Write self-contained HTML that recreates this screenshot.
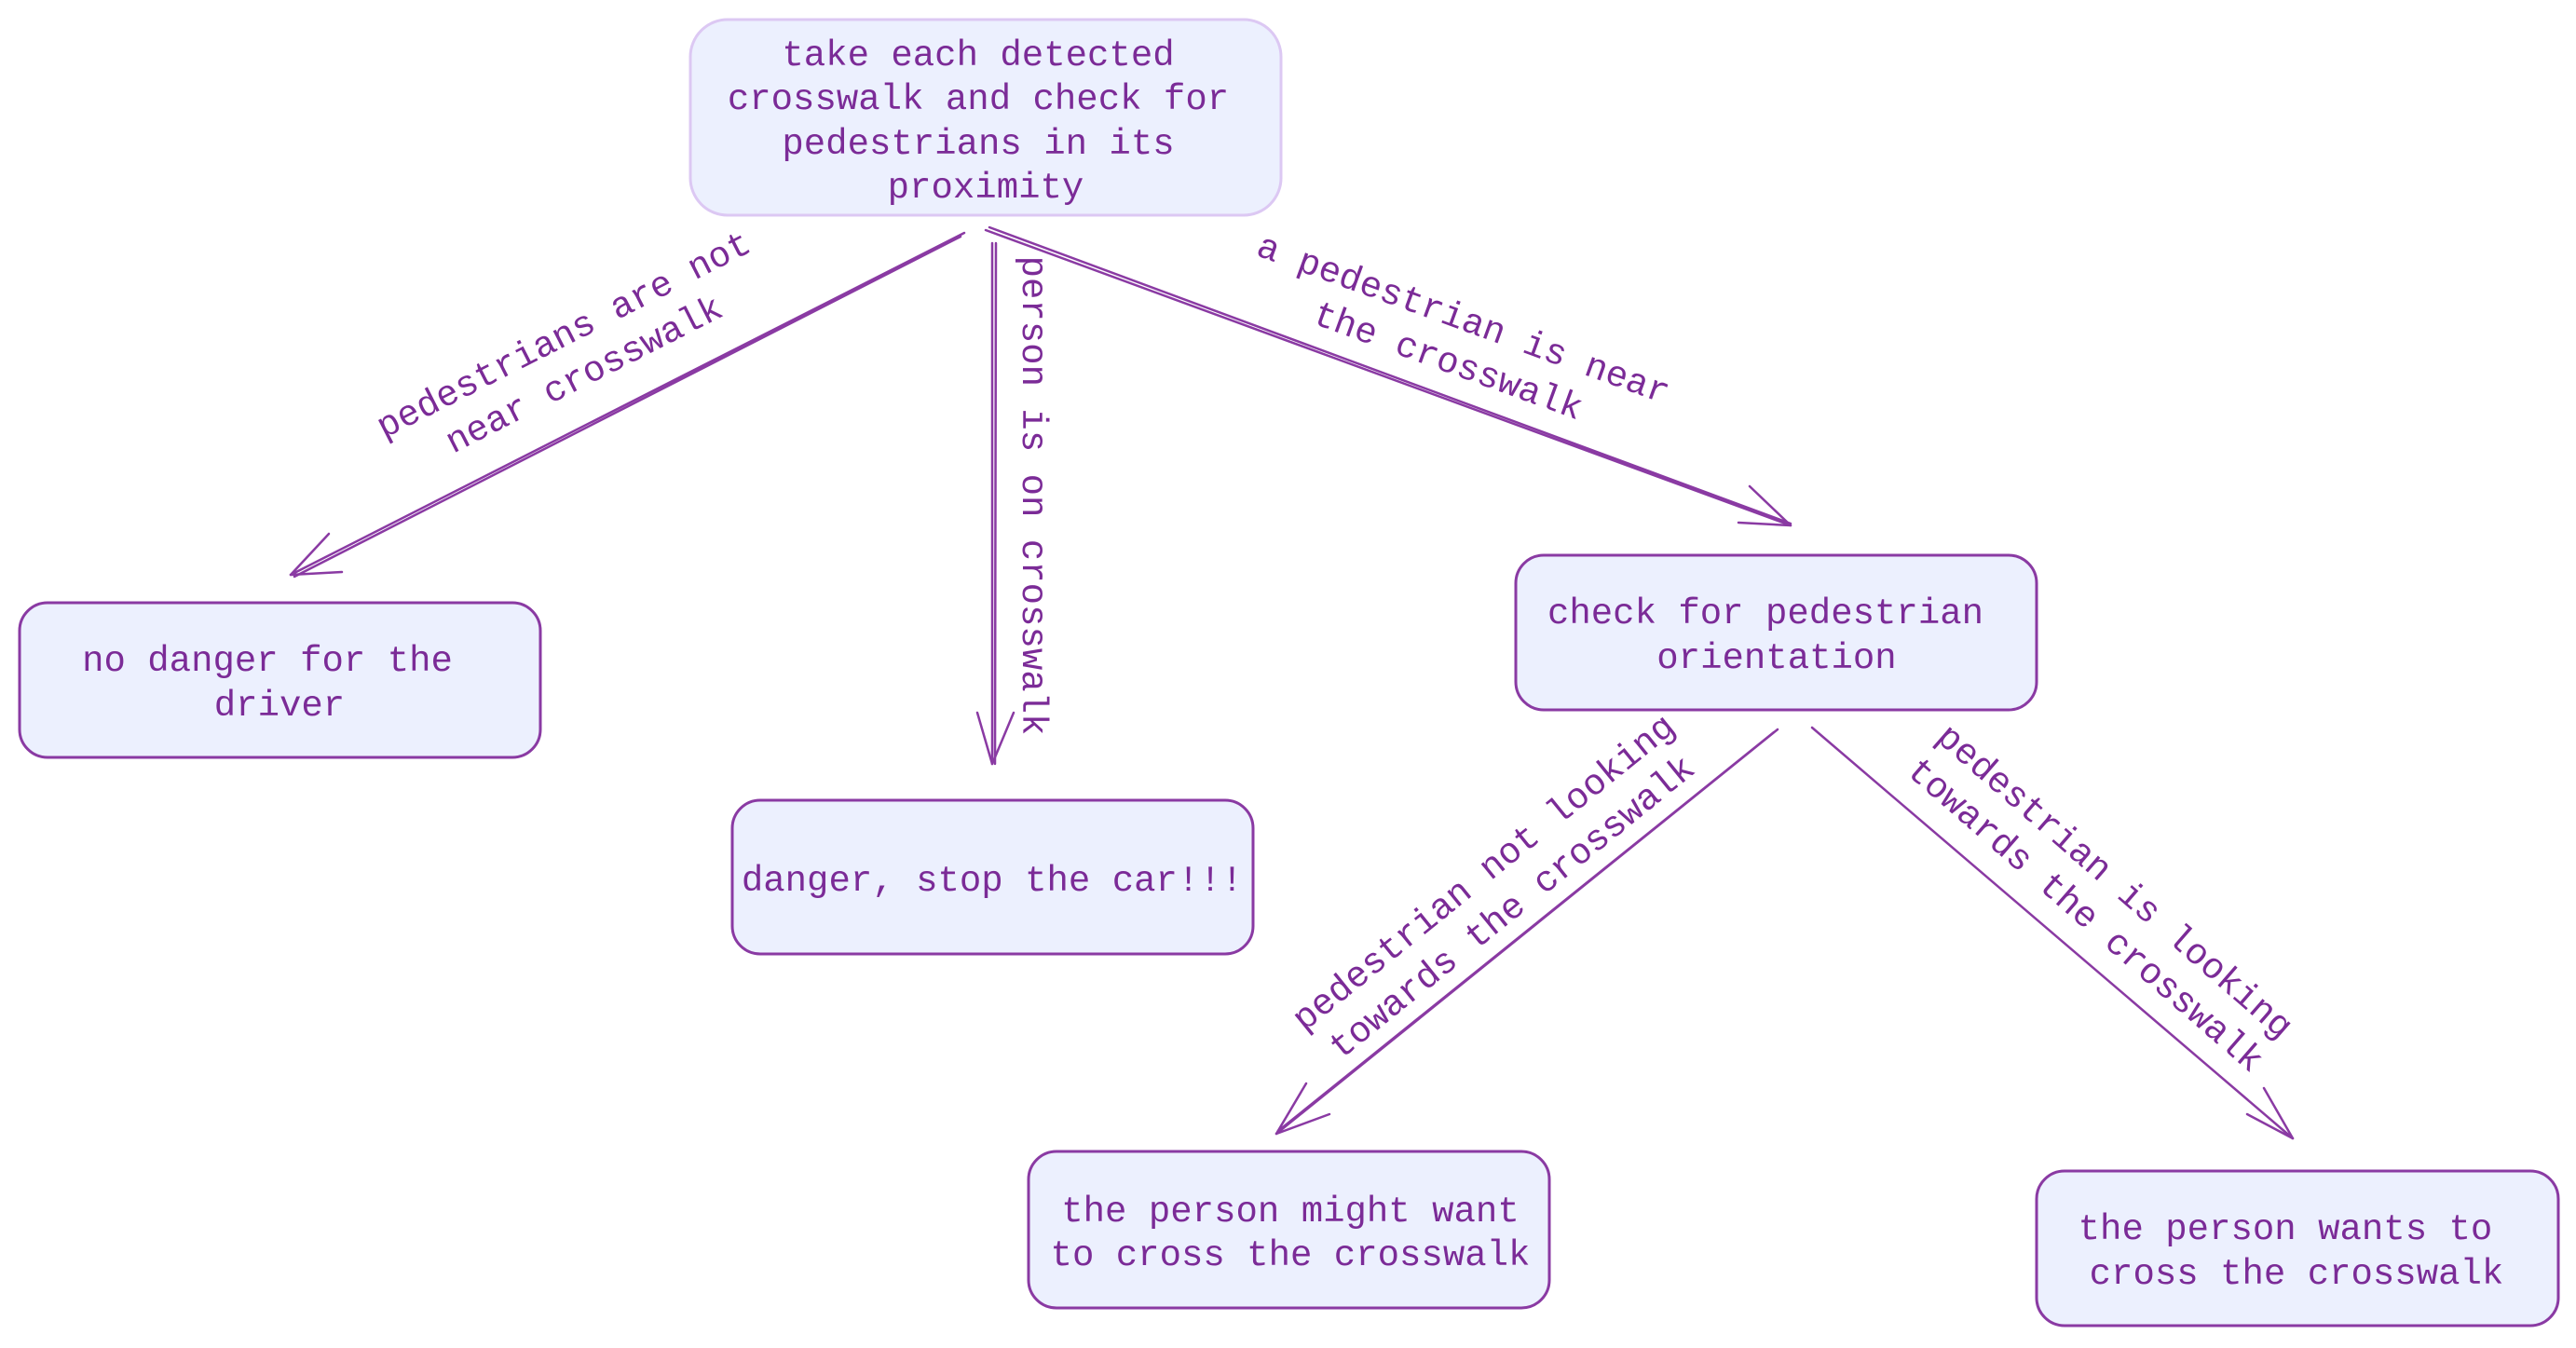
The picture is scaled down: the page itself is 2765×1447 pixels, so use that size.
<!DOCTYPE html>
<html><head><meta charset="utf-8"><style>
html,body{margin:0;padding:0;background:#fff;}
svg text{font-family:"Liberation Mono","DejaVu Sans Mono",monospace;fill:#7b2b97;font-size:39px;}
</style></head><body>
<svg width="2765" height="1442" viewBox="0 0 2765 1442" xmlns="http://www.w3.org/2000/svg">
<g stroke-linecap="round" fill="none">
<rect x="741" y="21" width="634" height="210" rx="40" fill="#ecf0fe" stroke="#dcc8f3" stroke-width="3"/>
<rect x="21" y="647" width="559" height="166" rx="30" fill="#ecf0fe" stroke="#8a3aa3" stroke-width="3"/>
<rect x="786" y="859" width="559" height="165" rx="30" fill="#ecf0fe" stroke="#8a3aa3" stroke-width="3"/>
<rect x="1627" y="596" width="559" height="166" rx="30" fill="#ecf0fe" stroke="#8a3aa3" stroke-width="3"/>
<rect x="1104" y="1236" width="559" height="168" rx="30" fill="#ecf0fe" stroke="#8a3aa3" stroke-width="3"/>
<rect x="2186" y="1257" width="560" height="166" rx="30" fill="#ecf0fe" stroke="#8a3aa3" stroke-width="3"/>
<g stroke="#8a3aa3" stroke-width="2.5">
<path d="M1035 250 L312 617 M1031 254 L316 619"/>
<path d="M312 617 L353 573 M312 617 L367 614"/>
<path d="M1065 261 L1065 820 M1069 261 L1068 820"/>
<path d="M1065 820 L1049 765 M1065 820 L1088 765"/>
<path d="M1058 247 L1922 564 M1062 244 L1922 562"/>
<path d="M1922 564 L1878 522 M1922 564 L1866 561"/>
<path d="M1908 783 L1370 1217 M1904 786 L1372 1214"/>
<path d="M1370 1217 L1402 1163 M1370 1217 L1427 1196"/>
<path d="M1945 781 L2461 1222"/>
<path d="M2461 1222 L2430 1168 M2461 1222 L2412 1196"/>
</g>
</g>
<g text-anchor="middle">
<text x="1050" y="70">take each detected</text>
<text x="1050" y="117">crosswalk and check for</text>
<text x="1050" y="165">pedestrians in its</text>
<text x="1058" y="212">proximity</text>
<text x="287" y="720">no danger for the</text>
<text x="300" y="768">driver</text>
<text x="1065" y="956">danger, stop the car!!!</text>
<text x="1895" y="669">check for pedestrian</text>
<text x="1907" y="717">orientation</text>
<text x="1385" y="1311">the person might want</text>
<text x="1385" y="1358">to cross the crosswalk</text>
<text x="2453" y="1330">the person wants to</text>
<text x="2465" y="1378">cross the crosswalk</text>
</g>
<g text-anchor="middle">
<g transform="translate(614,377) rotate(-27)">
<text x="0" y="-8">pedestrians are not</text>
<text x="0" y="40">near crosswalk</text>
</g>
<g transform="translate(1111,532) rotate(90)">
<text x="0" y="13">person is on crosswalk</text>
</g>
<g transform="translate(1564,361) rotate(20)">
<text x="0" y="-8">a pedestrian is near</text>
<text x="0" y="40">the crosswalk</text>
</g>
<g transform="translate(1605,952) rotate(-39)">
<text x="0" y="-8">pedestrian not looking</text>
<text x="0" y="40">towards the crosswalk</text>
</g>
<g transform="translate(2257,961) rotate(41)">
<text x="0" y="-8">pedestrian is looking</text>
<text x="0" y="40">towards the crosswalk</text>
</g>
</g>
</svg>
</body></html>
